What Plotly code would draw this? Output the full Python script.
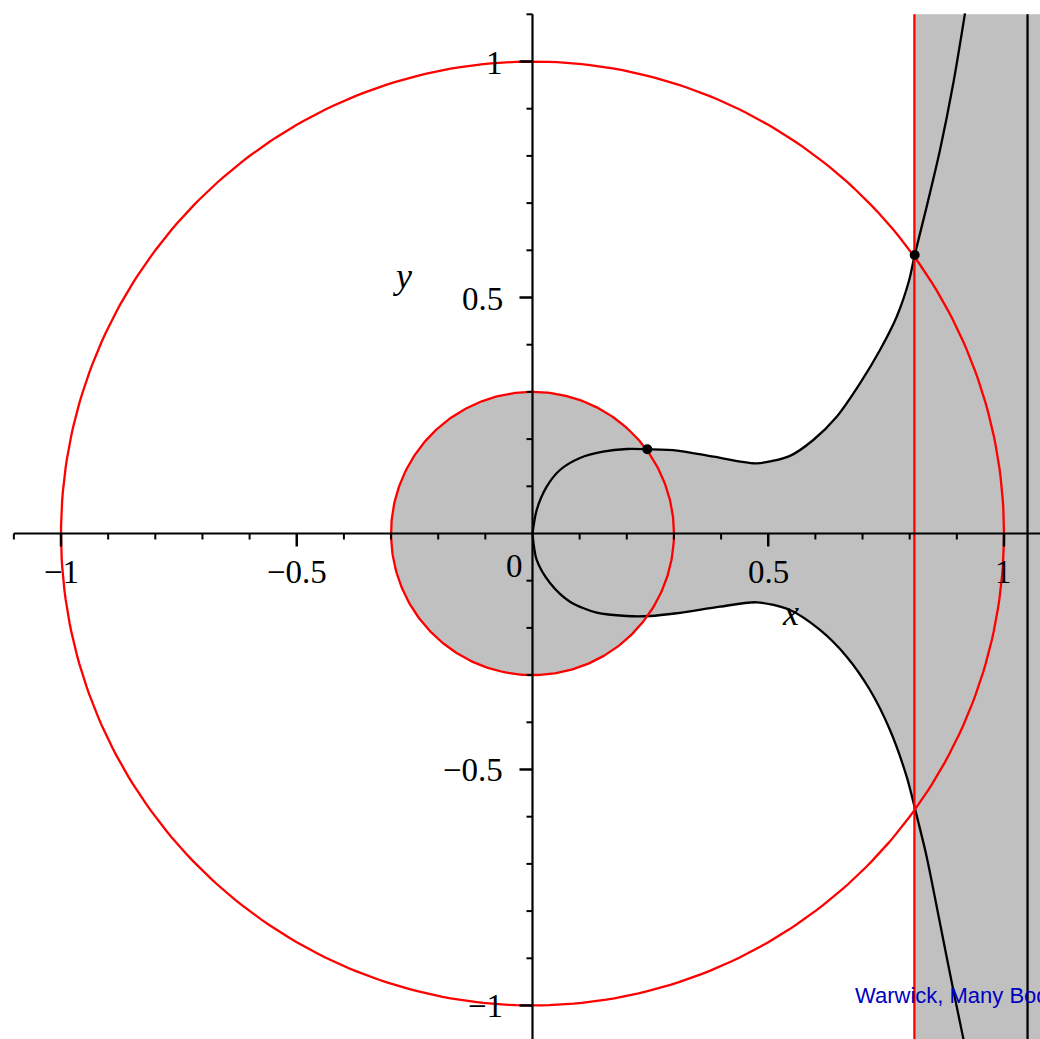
import numpy as np
import plotly.graph_objects as go

# ---------------- data ----------------
upper_x = [0.0, 0.0089, 0.0301, 0.0583, 0.1007, 0.1495, 0.1998, 0.2435, 0.3069, 0.3845,
           0.4755, 0.5461, 0.5955, 0.6452, 0.6946, 0.7370, 0.7724, 0.7990, 0.8106, 0.8360,
           0.8643, 0.8925, 0.9173]
upper_y = [0.0, 0.0498, 0.0992, 0.1345, 0.1600, 0.1733, 0.1790, 0.1784, 0.1758, 0.1627,
           0.1487, 0.1645, 0.1981, 0.2475, 0.3182, 0.3888, 0.4593, 0.5371, 0.5900, 0.6924,
           0.8125, 0.9538, 1.1021]
lower_x = [0.0, 0.0089, 0.0371, 0.0795, 0.1362, 0.1998, 0.2492, 0.3058, 0.3977, 0.4755,
           0.5461, 0.6098, 0.6664, 0.7158, 0.7582, 0.7936, 0.8119, 0.8360, 0.8643, 0.8925,
           0.9150]
lower_y = [0.0, -0.0561, -0.1049, -0.1445, -0.1678, -0.1748, -0.1748, -0.1690, -0.1551,
           -0.1458, -0.1621, -0.2044, -0.2610, -0.3316, -0.4163, -0.5153, -0.5858, -0.6847,
           -0.8258, -0.9672, -1.0760]

circle_radii = [0.3, 1.0]
red_line_x = 0.81
black_line_x = 1.05
dot_x = [0.2435, 0.8106]
dot_y = [0.1784, 0.5900]

x_major = [-1, -0.5, 0.5, 1]
x_major_labels = ["\u22121", "\u22120.5", "0.5", "1"]
y_major = [-1, -0.5, 0.5, 1]
y_major_labels = ["\u22121", "\u22120.5", "0.5", "1"]
x_minor = [-1.1, -0.9, -0.8, -0.7, -0.6, -0.4, -0.3, -0.2, -0.1, 0.1, 0.2, 0.3, 0.4,
           0.6, 0.7, 0.8, 0.9]
y_minor = [-0.9, -0.8, -0.7, -0.6, -0.4, -0.3, -0.2, -0.1, 0.1, 0.2, 0.3, 0.4,
           0.6, 0.7, 0.8, 0.9, 1.1]
axis_x_span = [-1.1, 1.2]
axis_y_span = [-1.2, 1.1]

X_RANGE = [-1.1294, 1.0764]
Y_RANGE = [-1.0710, 1.1303]

GRAY = "#c0c0c0"
RED = "#ff0000"
SERIF = "Liberation Serif, Times New Roman, serif"
SMOOTH = 0.8

fig = go.Figure()

# ---------------- gray shaded regions ----------------
theta = np.linspace(0, 2 * np.pi, 361)
r_small = circle_radii[0]
fig.add_trace(go.Scatter(x=r_small * np.cos(theta), y=r_small * np.sin(theta),
                         mode="lines", fill="toself", fillcolor=GRAY,
                         line=dict(width=0, color=GRAY), hoverinfo="skip"))

ux = [x for x in upper_x if x <= red_line_x + 0.001]
uy = upper_y[:len(ux)]
lx = [x for x in lower_x if x <= red_line_x + 0.003]
ly = lower_y[:len(lx)]
edge_x = red_line_x + 0.01  # tuck the edge under the strip to avoid a seam
poly_x = ux + [edge_x, edge_x] + lx[::-1]
poly_y = uy + [uy[-1], ly[-1]] + ly[::-1]
fig.add_trace(go.Scatter(x=poly_x, y=poly_y, mode="lines", fill="toself", fillcolor=GRAY,
                         line=dict(width=0, color=GRAY), hoverinfo="skip"))

strip_x = [red_line_x, axis_x_span[1], axis_x_span[1], red_line_x, red_line_x]
strip_y = [axis_y_span[0], axis_y_span[0], axis_y_span[1], axis_y_span[1], axis_y_span[0]]
fig.add_trace(go.Scatter(x=strip_x, y=strip_y, mode="lines", fill="toself", fillcolor=GRAY,
                         line=dict(width=0, color=GRAY), hoverinfo="skip"))

# ---------------- black curve and vertical line ----------------
fig.add_trace(go.Scatter(x=upper_x, y=upper_y, mode="lines",
                         line=dict(color="black", width=2.3, shape="spline", smoothing=SMOOTH)))
fig.add_trace(go.Scatter(x=lower_x, y=lower_y, mode="lines",
                         line=dict(color="black", width=2.3, shape="spline", smoothing=SMOOTH)))
fig.add_trace(go.Scatter(x=[black_line_x, black_line_x], y=axis_y_span, mode="lines",
                         line=dict(color="black", width=2.3)))

# ---------------- red circles and red line ----------------
for r in circle_radii:
    fig.add_trace(go.Scatter(x=r * np.cos(theta), y=r * np.sin(theta), mode="lines",
                             line=dict(color=RED, width=2.3)))
fig.add_trace(go.Scatter(x=[red_line_x, red_line_x], y=axis_y_span, mode="lines",
                         line=dict(color=RED, width=2.3)))

# ---------------- axes ----------------
fig.add_trace(go.Scatter(x=axis_x_span, y=[0, 0], mode="lines", line=dict(color="black", width=2.2)))
fig.add_trace(go.Scatter(x=[0, 0], y=axis_y_span, mode="lines", line=dict(color="black", width=2.2)))

shapes = []
for t in x_major:
    shapes.append(dict(type="line", xref="x", yref="y", x0=t, x1=t, ysizemode="pixel",
                       yanchor=0, y0=0, y1=-13, line=dict(color="black", width=2.5), layer="above"))
for t in x_minor:
    shapes.append(dict(type="line", xref="x", yref="y", x0=t, x1=t, ysizemode="pixel",
                       yanchor=0, y0=0, y1=-6, line=dict(color="black", width=2), layer="above"))
for t in y_major:
    shapes.append(dict(type="line", xref="x", yref="y", y0=t, y1=t, xsizemode="pixel",
                       xanchor=0, x0=0, x1=-13, line=dict(color="black", width=2.5), layer="above"))
for t in y_minor:
    shapes.append(dict(type="line", xref="x", yref="y", y0=t, y1=t, xsizemode="pixel",
                       xanchor=0, x0=0, x1=-6, line=dict(color="black", width=2), layer="above"))

# ---------------- dots ----------------
fig.add_trace(go.Scatter(x=dot_x, y=dot_y, mode="markers",
                         marker=dict(color="black", size=10, line=dict(width=0))))

# ---------------- labels ----------------
ann = []
for t, lab in zip(x_major, x_major_labels):
    ann.append(dict(x=t, y=0, xref="x", yref="y", text=lab, showarrow=False,
                    xanchor="center", yanchor="middle", yshift=-39,
                    font=dict(family=SERIF, size=33, color="black")))
ann.append(dict(x=0, y=0, xref="x", yref="y", text="0", showarrow=False,
                xanchor="center", yanchor="middle", xshift=-18, yshift=-33,
                font=dict(family=SERIF, size=33, color="black")))
for t, lab in zip(y_major, y_major_labels):
    ann.append(dict(x=0, y=t, xref="x", yref="y", text=lab, showarrow=False,
                    xanchor="right", yanchor="middle", xshift=-27, yshift=-1,
                    font=dict(family=SERIF, size=33, color="black")))
ann.append(dict(x=0.5, y=0, xref="x", yref="y", text="<i>x</i>", showarrow=False,
                xanchor="center", yanchor="middle", xshift=22, yshift=-80,
                font=dict(family=SERIF, size=36, color="black")))
ann.append(dict(x=0, y=0.5, xref="x", yref="y", text="<i>y</i>", showarrow=False,
                xanchor="center", yanchor="middle", xshift=-130, yshift=22,
                font=dict(family=SERIF, size=36, color="black")))
ann.append(dict(x=0.679, y=-0.978, xref="x", yref="y", text="Warwick, Many Body",
                showarrow=False, xanchor="left", yanchor="middle",
                font=dict(family="Liberation Sans, Arial, sans-serif", size=22, color="#0000c0")))

fig.update_layout(
    width=1040, height=1039,
    margin=dict(l=0, r=0, t=0, b=0, pad=0),
    paper_bgcolor="white", plot_bgcolor="white",
    showlegend=False,
    xaxis=dict(range=X_RANGE, visible=False, fixedrange=True),
    yaxis=dict(range=Y_RANGE, visible=False, fixedrange=True),
    shapes=shapes, annotations=ann,
)

fig.write_html("out.html", config={"displayModeBar": False, "staticPlot": True},
               post_script="document.body.style.margin='0';document.body.style.overflow='hidden';")
